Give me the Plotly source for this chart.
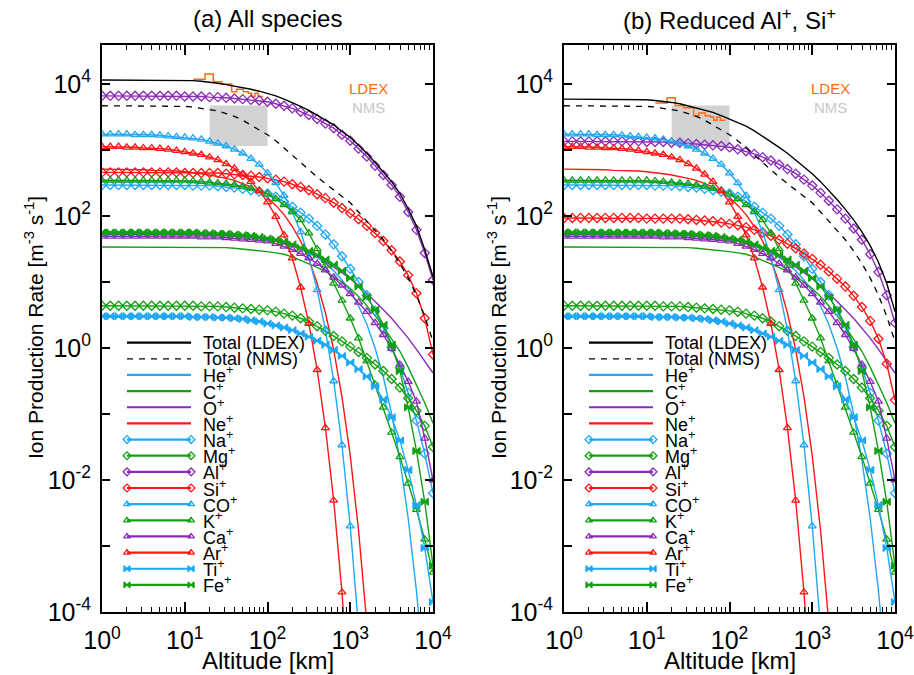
import plotly.graph_objects as go

# ---------------- data (log10 of ion production rate, m^-3 s^-1) ----------------
ALT_KM = [1.0, 1.259, 1.585, 1.995, 2.512, 3.162, 3.981, 5.012, 6.310, 7.943,
          10.0, 12.59, 15.85, 19.95, 25.12, 31.62, 39.81, 50.12, 63.10, 79.43,
          100.0, 125.9, 158.5, 199.5, 251.2, 316.2, 398.1, 501.2, 631.0, 794.3,
          1000.0, 1259.0, 1585.0, 1995.0, 2512.0, 3162.0, 3981.0, 5012.0, 6310.0, 7943.0, 10000.0]

LOG_TOTAL_LDEX_A = [4.06]*10 + [4.05, 4.05, 4.04, 4.03, 4.01, 3.99, 3.97, 3.95, 3.92, 3.89,
                                3.86, 3.82, 3.77, 3.72, 3.66, 3.60, 3.53, 3.46, 3.38, 3.28,
                                3.19, 3.07, 2.95, 2.81, 2.67, 2.52, 2.34, 2.11, 1.85, 1.49, 1.08]
LOG_TOTAL_LDEX_B = [3.77]*10 + [3.76, 3.75, 3.74, 3.72, 3.70, 3.67, 3.64, 3.61, 3.57, 3.52,
                                3.47, 3.42, 3.36, 3.29, 3.21, 3.13, 3.04, 2.95, 2.85, 2.75,
                                2.64, 2.52, 2.39, 2.25, 2.10, 1.94, 1.76, 1.55, 1.30, 0.98, 0.55]
LOG_TOTAL_NMS = [3.67]*10 + [3.66, 3.65, 3.63, 3.61, 3.59, 3.55, 3.51, 3.45, 3.38, 3.31,
                             3.23, 3.14, 3.03, 2.92, 2.80, 2.69, 2.59, 2.49, 2.39, 2.30,
                             2.20, 2.06, 1.92, 1.78, 1.64, 1.47, 1.28, 1.06, 0.80, 0.48, 0.10]

LOG_HE = [1.73]*8 + [1.72]*5 + [1.71, 1.71, 1.70, 1.69, 1.68, 1.67, 1.66,
                                1.64, 1.62, 1.59, 1.55, 1.50, 1.44, 1.37, 1.28, 1.17, 1.03,
                                0.86, 0.64, 0.36, 0.00, -0.44, -1.00, -1.70, -2.58, -3.68, -5.00]
LOG_C = [1.53]*10 + [1.53, 1.53, 1.53, 1.52, 1.52, 1.52, 1.51, 1.50, 1.49, 1.48,
                     1.46, 1.44, 1.42, 1.38, 1.33, 1.28, 1.22, 1.16, 1.08, 1.00,
                     0.90, 0.78, 0.64, 0.49, 0.32, 0.14, -0.05, -0.29, -0.55, -0.83, -1.14]
LOG_O = [1.72]*10 + [1.72, 1.72, 1.72, 1.71, 1.71, 1.71, 1.70, 1.69, 1.68, 1.67,
                     1.65, 1.63, 1.60, 1.56, 1.51, 1.45, 1.39, 1.31, 1.23, 1.14,
                     1.05, 0.95, 0.83, 0.71, 0.58, 0.45, 0.30, 0.15, -0.02, -0.20, -0.38]
LOG_NE = [2.71, 2.71, 2.71, 2.70, 2.70, 2.70, 2.69, 2.69, 2.68, 2.68,
          2.67, 2.66, 2.64, 2.62, 2.60, 2.57, 2.54, 2.49, 2.44, 2.37,
          2.28, 2.16, 2.02, 1.84, 1.62, 1.34, 0.98, 0.53, -0.03, -0.74,
          -1.63, -2.76, -4.17]
LOG_NA = [2.47]*10 + [2.47, 2.46, 2.46, 2.46, 2.45, 2.44, 2.43, 2.41, 2.39, 2.37,
                      2.34, 2.29, 2.22, 2.14, 2.05, 1.96, 1.85, 1.72, 1.57, 1.39,
                      1.20, 1.00, 0.80, 0.56, 0.30, 0.01, -0.30, -0.68, -1.10, -1.60, -2.20]
LOG_MG = [0.64]*10 + [0.64, 0.64, 0.63, 0.63, 0.63, 0.62, 0.61, 0.60, 0.59, 0.58,
                      0.57, 0.55, 0.52, 0.49, 0.45, 0.40, 0.33, 0.26, 0.18, 0.10,
                      0.02, -0.06, -0.15, -0.25, -0.35, -0.47, -0.60, -0.76, -0.95, -1.18, -1.50]
LOG_AL_A = [3.82]*10 + [3.81, 3.81, 3.81, 3.80, 3.80, 3.79, 3.78, 3.77, 3.76, 3.75,
                        3.73, 3.70, 3.67, 3.63, 3.58, 3.53, 3.47, 3.40, 3.33, 3.23,
                        3.14, 3.02, 2.90, 2.76, 2.62, 2.47, 2.29, 2.06, 1.79, 1.44, 1.03]
LOG_AL_B = [3.13]*10 + [3.12, 3.12, 3.12, 3.11, 3.11, 3.10, 3.09, 3.08, 3.07, 3.06,
                        3.04, 3.01, 2.98, 2.94, 2.89, 2.84, 2.78, 2.71, 2.64, 2.55,
                        2.46, 2.35, 2.23, 2.10, 1.96, 1.81, 1.64, 1.42, 1.15, 0.80, 0.38]
LOG_SI_A = [2.66]*10 + [2.65]*5 + [2.64, 2.63, 2.62, 2.61, 2.59,
                                   2.57, 2.55, 2.52, 2.48, 2.44, 2.39, 2.33, 2.27, 2.20, 2.12,
                                   2.04, 1.95, 1.85, 1.74, 1.62, 1.48, 1.31, 1.10, 0.83, 0.45, -0.10]
LOG_SI_B = [1.97]*10 + [1.96]*5 + [1.95, 1.94, 1.93, 1.92, 1.90,
                                   1.88, 1.86, 1.83, 1.79, 1.75, 1.70, 1.64, 1.58, 1.51, 1.43,
                                   1.35, 1.26, 1.16, 1.05, 0.93, 0.79, 0.62, 0.41, 0.14, -0.24, -0.79]
LOG_CO = [3.24, 3.24, 3.24, 3.24, 3.23, 3.23, 3.23, 3.22, 3.21, 3.20,
          3.19, 3.18, 3.16, 3.13, 3.10, 3.06, 3.01, 2.95, 2.87, 2.78,
          2.65, 2.50, 2.31, 2.06, 1.76, 1.37, 0.88, 0.27, -0.50, -1.47,
          -2.70, -4.24]
LOG_K = [2.54]*10 + [2.54, 2.53, 2.52, 2.51, 2.50, 2.49, 2.47, 2.45, 2.42, 2.38,
                     2.33, 2.26, 2.17, 2.07, 1.94, 1.74, 1.50, 1.25, 0.98, 0.72,
                     0.45, 0.15, -0.20, -0.55, -0.90, -1.28, -1.65, -2.05, -2.45, -2.90, -3.40]
LOG_CA = [1.69]*10 + [1.69, 1.69, 1.68, 1.68, 1.68, 1.67, 1.66, 1.65, 1.64, 1.63,
                      1.62, 1.58, 1.54, 1.49, 1.43, 1.36, 1.28, 1.18, 1.07, 0.95,
                      0.82, 0.69, 0.55, 0.38, 0.20, -0.01, -0.25, -0.51, -0.81, -1.37, -2.00]
LOG_AR = [3.05, 3.05, 3.05, 3.04, 3.04, 3.03, 3.03, 3.02, 3.01, 2.99,
          2.97, 2.95, 2.93, 2.89, 2.85, 2.79, 2.72, 2.63, 2.52, 2.38,
          2.21, 1.99, 1.71, 1.36, 0.92, 0.37, -0.33, -1.21, -2.31, -3.70,
          -5.46]
LOG_TI = [0.48]*10 + [0.48, 0.47, 0.47, 0.47, 0.46, 0.46, 0.45, 0.44, 0.42, 0.40,
                      0.37, 0.34, 0.31, 0.27, 0.22, 0.17, 0.11, 0.05, -0.03, -0.12,
                      -0.22, -0.32, -0.43, -0.58, -0.78, -1.05, -1.40, -1.85, -2.38, -3.03, -3.85]
LOG_FE = [1.75]*10 + [1.75, 1.75, 1.74, 1.74, 1.73, 1.73, 1.72, 1.71, 1.70, 1.68,
                      1.66, 1.64, 1.61, 1.57, 1.52, 1.47, 1.41, 1.34, 1.26, 1.17,
                      1.06, 0.93, 0.77, 0.58, 0.35, 0.05, -0.35, -0.90, -1.56, -2.33, -3.30]

# LDEX measured profile (histogram bins) and NMS range box
LDEX_EDGES_KM = [12.7, 17.6, 22.1, 27.9, 36.9, 42.4, 51.0, 58.6, 64.4, 70.6, 77.4, 89.0]
LOG_LDEX_A = [4.07, 4.15, 4.035, 4.00, 3.88, 3.92, 3.88, 3.86, 3.81, 3.86, 3.81]
LOG_LDEX_B = [3.71, 3.79, 3.675, 3.64, 3.52, 3.56, 3.52, 3.50, 3.45, 3.50, 3.45]
NMS_ALT_KM = [20.0, 100.0]
NMS_RATE = [1150.0, 4700.0]

XTICK_VALS = [1, 10, 100, 1000, 10000]
XTICK_TEXT = ["10<sup>0</sup>", "10<sup>1</sup>", "10<sup>2</sup>", "10<sup>3</sup>", "10<sup>4</sup>"]
YTICK_VALS = [1e-4, 1e-3, 1e-2, 1e-1, 1, 10, 100, 1000, 10000]
YTICK_TEXT = ["10<sup>-4</sup>", "", "10<sup>-2</sup>", "", "10<sup>0</sup>", "", "10<sup>2</sup>", "", "10<sup>4</sup>"]

# ---------------- styling ----------------
CYAN = "#1EA8F5"
GREEN = "#12A012"
PURPLE = "#8B2CB8"
RED = "#FF1414"
ORANGE = "#FF6A10"
GRAYBOX = "#D2D2D2"
FONT = "Liberation Sans, Arial, sans-serif"


def lin(vals):
    return [10 ** v for v in vals]


def species(al, si):
    # name, values, colour, marker symbol (None = plain line)
    return [
        ("He<sup>+</sup>", LOG_HE, CYAN, None),
        ("C<sup>+</sup>", LOG_C, GREEN, None),
        ("O<sup>+</sup>", LOG_O, PURPLE, None),
        ("Ne<sup>+</sup>", LOG_NE, RED, None),
        ("Na<sup>+</sup>", LOG_NA, CYAN, "diamond-open"),
        ("Mg<sup>+</sup>", LOG_MG, GREEN, "diamond-open"),
        ("Al<sup>+</sup>", al, PURPLE, "diamond-open"),
        ("Si<sup>+</sup>", si, RED, "diamond-open"),
        ("CO<sup>+</sup>", LOG_CO, CYAN, "triangle-up-open"),
        ("K<sup>+</sup>", LOG_K, GREEN, "triangle-up-open"),
        ("Ca<sup>+</sup>", LOG_CA, PURPLE, "triangle-up-open"),
        ("Ar<sup>+</sup>", LOG_AR, RED, "triangle-up-open"),
        ("Ti<sup>+</sup>", LOG_TI, CYAN, "bowtie"),
        ("Fe<sup>+</sup>", LOG_FE, GREEN, "bowtie"),
    ]


fig = go.Figure()

X_DOM = [[102 / 914, 433 / 914], [564 / 914, 895 / 914]]
Y_DOM = [1 - 612 / 675, 1 - 45 / 675]

panels = [
    ("x", "y", "x3", "y3", LOG_TOTAL_LDEX_A, LOG_AL_A, LOG_SI_A, LOG_LDEX_A),
    ("x2", "y2", "x4", "y4", LOG_TOTAL_LDEX_B, LOG_AL_B, LOG_SI_B, LOG_LDEX_B),
]

annotations = []
for (xa, ya, xl, yl, tot, al, si, ldex) in panels:
    # NMS range box
    fig.add_trace(go.Scatter(
        x=[NMS_ALT_KM[0], NMS_ALT_KM[1], NMS_ALT_KM[1], NMS_ALT_KM[0], NMS_ALT_KM[0]],
        y=[NMS_RATE[0], NMS_RATE[0], NMS_RATE[1], NMS_RATE[1], NMS_RATE[0]],
        fill="toself", fillcolor=GRAYBOX, line=dict(width=0, color=GRAYBOX),
        mode="lines", xaxis=xa, yaxis=ya, showlegend=False, hoverinfo="skip"))
    # LDEX measurement histogram
    fig.add_trace(go.Scatter(
        x=LDEX_EDGES_KM, y=lin(ldex + [ldex[-1]]), mode="lines",
        line=dict(color=ORANGE, width=1.5, shape="hv"),
        xaxis=xa, yaxis=ya, showlegend=False))
    # species
    for name, vals, col, sym in species(al, si):
        kw = dict(mode="lines", line=dict(color=col, width=1.4))
        if sym:
            kw = dict(mode="lines+markers", line=dict(color=col, width=1.4),
                      marker=dict(symbol=sym, size=7, color=col, line=dict(width=1.3, color=col)))
        fig.add_trace(go.Scatter(x=ALT_KM[:len(vals)], y=lin(vals), xaxis=xa, yaxis=ya,
                                 showlegend=False, **kw))
    # totals
    fig.add_trace(go.Scatter(x=ALT_KM, y=lin(LOG_TOTAL_NMS), mode="lines",
                             line=dict(color="black", width=1.3, dash="6px,6px"),
                             xaxis=xa, yaxis=ya, showlegend=False))
    fig.add_trace(go.Scatter(x=ALT_KM, y=lin(tot), mode="lines",
                             line=dict(color="black", width=1.4),
                             xaxis=xa, yaxis=ya, showlegend=False))

    # ---- hand-drawn legend on an overlay axis (fractions of the panel) ----
    entries = [("Total (LDEX)", "black", None, "solid"),
               ("Total (NMS)", "black", None, "dash")]
    entries += [(n, c, s, "solid") for (n, v, c, s) in species(al, si)]
    for k, (name, col, sym, dash) in enumerate(entries):
        yr = 0.475 - 0.02848 * k
        if sym:
            fig.add_trace(go.Scatter(
                x=[0.0755, 0.269], y=[yr, yr], mode="lines+markers", xaxis=xl, yaxis=yl,
                line=dict(color=col, width=2.2),
                marker=dict(symbol=sym, size=6, color=col, line=dict(width=1.3, color=col)),
                showlegend=False, hoverinfo="skip"))
        else:
            fig.add_trace(go.Scatter(
                x=[0.0755, 0.269], y=[yr, yr], mode="lines", xaxis=xl, yaxis=yl,
                line=dict(color=col, width=2.2 if dash == "solid" else 1.3,
                          dash="solid" if dash == "solid" else "6px,6px"),
                showlegend=False, hoverinfo="skip"))
        annotations.append(dict(x=0.30, y=yr, xref=xl, yref=yl, text=name, showarrow=False,
                                xanchor="left", yanchor="middle",
                                font=dict(family=FONT, size=18, color="black")))
    annotations.append(dict(x=0.804, y=0.924, xref=xl, yref=yl, text="LDEX", showarrow=False,
                            font=dict(family=FONT, size=15, color=ORANGE)))
    annotations.append(dict(x=0.804, y=0.889, xref=xl, yref=yl, text="NMS", showarrow=False,
                            font=dict(family=FONT, size=15, color="#C8C8C8")))

# titles and axis titles
for cx, title in [((102 + 433) / 2, "(a) All species"),
                  ((564 + 895) / 2, "(b) Reduced Al<sup>+</sup>, Si<sup>+</sup>")]:
    annotations.append(dict(x=cx / 914, y=1 - 19 / 675, xref="paper", yref="paper", text=title,
                            showarrow=False, xanchor="center", yanchor="middle",
                            font=dict(family=FONT, size=24, color="black")))
    annotations.append(dict(x=cx / 914, y=1 - 660 / 675, xref="paper", yref="paper",
                            text="Altitude [km]", showarrow=False, xanchor="center", yanchor="middle",
                            font=dict(family=FONT, size=24, color="black")))
for lx in [34, 497]:
    annotations.append(dict(x=lx / 914, y=1 - 328 / 675, xref="paper", yref="paper",
                            text="Ion Production Rate [m<sup>-3</sup> s<sup>-1</sup>]",
                            textangle=-90, showarrow=False, xanchor="center", yanchor="middle",
                            font=dict(family=FONT, size=21, color="black")))

MINOR_X = [m * 10 ** e for e in range(4) for m in range(2, 10)]


def xaxis(dom, anchor):
    return dict(type="log", range=[0, 4], domain=dom, anchor=anchor, automargin=False,
                showline=True, mirror="allticks", linecolor="black", linewidth=2,
                ticks="inside", ticklen=10, tickwidth=1.5, tickcolor="black",
                tickvals=XTICK_VALS, ticktext=XTICK_TEXT, ticklabelstandoff=5,
                ticklabeloverflow="allow",
                minor=dict(ticks="inside", ticklen=5, tickwidth=1.2, tickcolor="black",
                           tickvals=MINOR_X, showgrid=False),
                showgrid=False, zeroline=False,
                tickfont=dict(family=FONT, size=25, color="black"))


def yaxis(anchor):
    return dict(type="log", range=[-4, 4.59], domain=Y_DOM, anchor=anchor, automargin=False,
                showline=True, mirror="allticks", linecolor="black", linewidth=2,
                ticks="inside", ticklen=8, tickwidth=1.5, tickcolor="black",
                tickvals=YTICK_VALS, ticktext=YTICK_TEXT, ticklabelstandoff=4,
                ticklabeloverflow="allow",
                showgrid=False, zeroline=False,
                tickfont=dict(family=FONT, size=25, color="black"))


def hidden(dom, anchor, over):
    return dict(domain=dom, range=[0, 1], visible=False, anchor=anchor, overlaying=over,
                automargin=False)


fig.update_layout(
    template="none",
    width=914, height=675, margin=dict(l=0, r=0, t=0, b=0, autoexpand=False),
    paper_bgcolor="white", plot_bgcolor="rgba(0,0,0,0)", showlegend=False,
    xaxis=xaxis(X_DOM[0], "y"), yaxis=yaxis("x"),
    xaxis2=xaxis(X_DOM[1], "y2"), yaxis2=yaxis("x2"),
    xaxis3=hidden(X_DOM[0], "y3", "x"), yaxis3=hidden(Y_DOM, "x3", "y"),
    xaxis4=hidden(X_DOM[1], "y4", "x2"), yaxis4=hidden(Y_DOM, "x4", "y2"),
    annotations=annotations,
)

# remove the browser's default 8px page margin so the figure sits at the window origin
fig.write_html("out.html", config={"displayModeBar": False},
               post_script="document.body.style.margin='0px';")
